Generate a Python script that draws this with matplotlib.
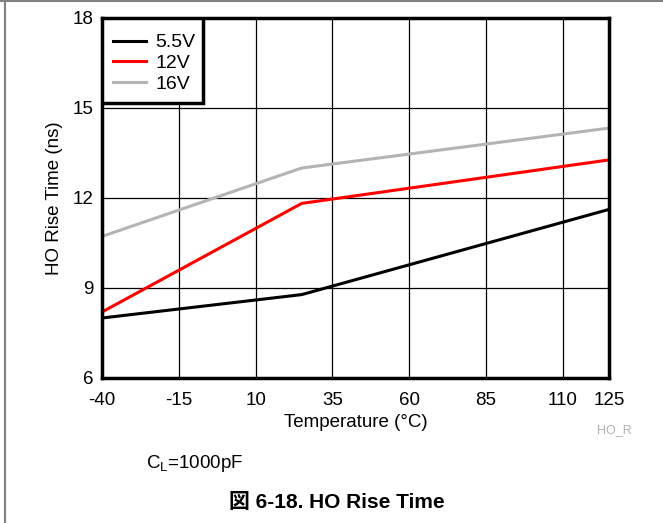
import matplotlib
matplotlib.use("Agg")
import matplotlib.pyplot as plt
from matplotlib.lines import Line2D
from matplotlib.patches import Rectangle

plt.rcParams["font.family"] = ["Liberation Sans", "Noto Sans CJK JP", "DejaVu Sans"]
plt.rcParams["axes.unicode_minus"] = False

# data
temps = [-40, 25, 125]
rise_5v5 = [8.0, 8.78, 11.62]
rise_12v = [8.2, 11.82, 13.27]
rise_16v = [10.72, 13.0, 14.33]
series_labels = ["5.5V", "12V", "16V"]
series_colors = ["black", "#ff0000", "#b4b4b4"]

xticks = [-40, -15, 10, 35, 60, 85, 110, 125]
yticks = [6, 9, 12, 15, 18]

fig = plt.figure(figsize=(6.63, 5.23), dpi=100)
ax = fig.add_axes([102 / 663, 1 - 378 / 523, 507 / 663, 360 / 523])

for ys, lab, col in zip([rise_5v5, rise_12v, rise_16v], series_labels, series_colors):
    ax.plot(temps, ys, color=col, lw=2.2, label=lab, solid_joinstyle="miter")

ax.set_xlim(-40, 125)
ax.set_ylim(6, 18)
ax.set_xticks(xticks)
ax.set_yticks(yticks)
ax.grid(True, color="black", lw=0.9)
ax.set_axisbelow(True)
ax.tick_params(length=0, labelsize=13.5)
ax.tick_params(axis="x", pad=10)
ax.tick_params(axis="y", pad=6)
for sp in ax.spines.values():
    sp.set_linewidth(2.5)

ax.set_xlabel("Temperature (°C)", fontsize=13.5, labelpad=4)
ax.set_ylabel("HO Rise Time (ns)", fontsize=13.5, labelpad=7)

# legend box drawn separately so its padding can match the reference
ax.add_patch(Rectangle((0, 0.764), 0.199, 0.236, transform=ax.transAxes,
                       facecolor="white", edgecolor="black", lw=2.5, zorder=4))
leg = ax.legend(loc="upper left", bbox_to_anchor=(0.0215, 0.956), fontsize=14,
                frameon=False, borderaxespad=0, borderpad=0,
                handlelength=1.7, handletextpad=0.5, labelspacing=0.15)
leg.set_zorder(5)

fig.text(614 / 663, 1 - 430 / 523, "HO_R", fontsize=9, color="#b0b0b0",
         ha="center", va="center")
fig.text(146 / 663, 1 - 463 / 523, r"C$_\mathregular{L}$=1000pF", fontsize=13.5,
         ha="left", va="center")
fig.text(337 / 663, 1 - 502 / 523, "図 6-18. HO Rise Time", fontsize=15,
         fontweight="bold", ha="center", va="center")

# figure frame lines (left and top edges)
fig.add_artist(Line2D([5 / 663, 5 / 663], [0, 1], color="#808080", lw=1.5))
fig.add_artist(Line2D([0, 1], [1 - 1 / 523, 1 - 1 / 523], color="#808080", lw=1.5))

fig.savefig("out.png", dpi=100)
